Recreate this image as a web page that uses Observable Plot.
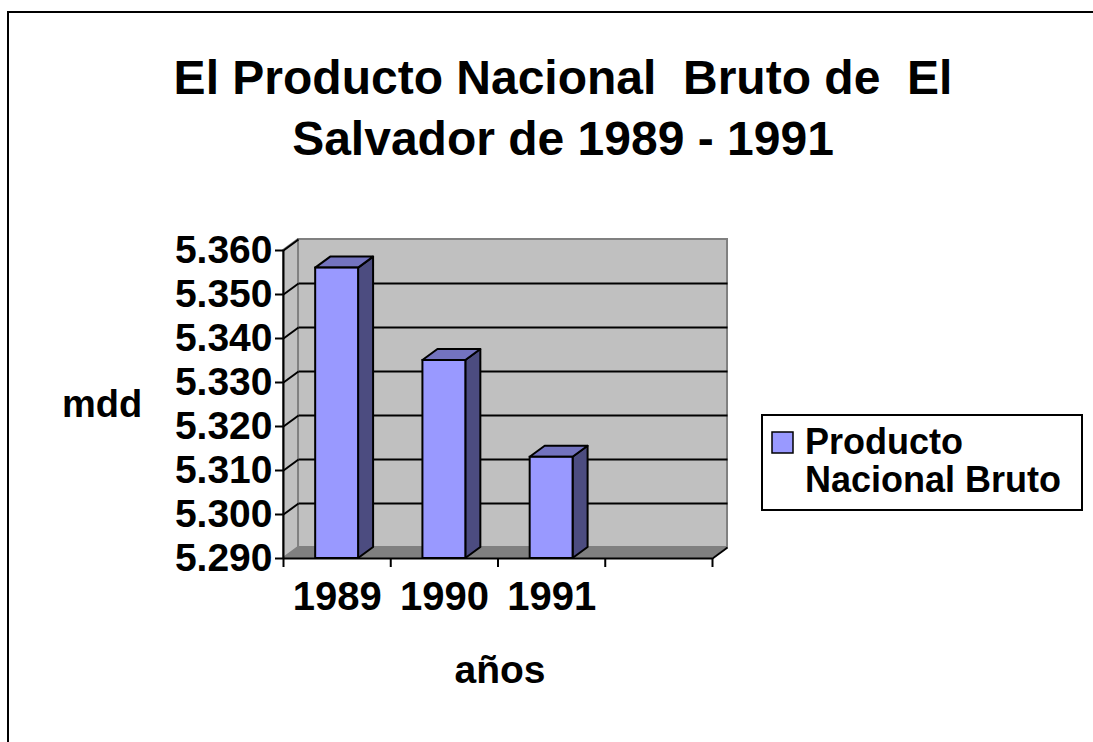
<!DOCTYPE html>
<html>
<head>
<meta charset="utf-8">
<script src="https://cdn.jsdelivr.net/npm/d3@7"></script>
<script src="https://cdn.jsdelivr.net/npm/@observablehq/plot@0.6"></script>
<style>
  html, body { margin: 0; padding: 0; background: #fff; }
  #chart { width: 1093px; height: 742px; overflow: hidden; }
  svg { font-family: "Liberation Sans", Arial, sans-serif; }
</style>
</head>
<body>
<div id="chart"></div>
<script>
// ---- data ----
const categories = ["1989", "1990", "1991", ""];
const values = [5.356, 5.335, 5.313, null];
const yTicks = [5.29, 5.30, 5.31, 5.32, 5.33, 5.34, 5.35, 5.36];
const seriesName = ["Producto", "Nacional Bruto"];
const titleLines = ["El Producto Nacional  Bruto de  El", "Salvador de 1989 - 1991"];
const yLabel = "mdd";
const xLabel = "años";

// ---- layout / style ----
const W = 1093, H = 742;
const yMin = 5.29, yMax = 5.36;
const nSlots = categories.length;
const DX = 0.14;      // depth offset in x units
const DY = 0.0025;    // depth offset in y units
const barPad = 0.3;
const FRONT = "#9999ff", TOP = "#7373bf", SIDE = "#4c4c80";
const WALL = "#c0c0c0", EDGE = "#808080", FLOOR = "#808080";

const bars = categories.map((c, i) => ({cat: c, i, v: values[i]})).filter(d => d.v != null);
const sidePts = bars.flatMap(d => [
  {cat: d.cat, x: d.i + 1 - barPad, y1: yMin, y2: d.v},
  {cat: d.cat, x: d.i + 1 - barPad + DX, y1: yMin + DY, y2: d.v + DY}
]);
const topPts = bars.flatMap(d => [
  {cat: d.cat, y: d.v, x1: d.i + barPad, x2: d.i + 1 - barPad},
  {cat: d.cat, y: d.v + DY, x1: d.i + barPad + DX, x2: d.i + 1 - barPad + DX}
]);
const grid = yTicks.filter(t => t > yMin && t < yMax);
const slotEdges = d3.range(nSlots + 1);

const plot = Plot.plot({
  width: W, height: H,
  marginLeft: 283, marginRight: 381, marginTop: 250, marginBottom: 184,
  style: {background: "transparent", fontFamily: "Liberation Sans, Arial, sans-serif"},
  x: {domain: [0, nSlots]},
  y: {domain: [yMin, yMax]},
  marks: [
    // back wall
    Plot.rect([0], {x1: () => DX, x2: () => nSlots + DX, y1: () => yMin + DY, y2: () => yMax + DY,
      fill: WALL, stroke: EDGE, strokeWidth: 2}),
    // left wall
    Plot.areaY([{x: 0, y1: yMin, y2: yMax}, {x: DX, y1: yMin + DY, y2: yMax + DY}],
      {x: "x", y1: "y1", y2: "y2", fill: WALL, stroke: EDGE, strokeWidth: 2}),
    // floor
    Plot.areaX([{y: yMin, x1: 0, x2: nSlots}, {y: yMin + DY, x1: DX, x2: nSlots + DX}],
      {y: "y", x1: "x1", x2: "x2", fill: FLOOR}),
    Plot.link([0], {x1: () => nSlots, y1: () => yMin, x2: () => nSlots + DX, y2: () => yMin + DY,
      stroke: "black", strokeWidth: 2}),
    // gridlines back wall
    Plot.link(grid, {x1: () => DX, x2: () => nSlots + DX, y1: d => d + DY, y2: d => d + DY,
      stroke: "black", strokeWidth: 2.2}),
    // gridlines left wall
    Plot.link(yTicks.filter(t => t > yMin), {x1: () => 0, x2: () => DX, y1: d => d, y2: d => d + DY,
      stroke: "black", strokeWidth: 2}),
    // bars: side, top, front
    Plot.areaY(sidePts, {x: "x", y1: "y1", y2: "y2", z: "cat", fill: SIDE, stroke: "black", strokeWidth: 2}),
    Plot.areaX(topPts, {y: "y", x1: "x1", x2: "x2", z: "cat", fill: TOP, stroke: "black", strokeWidth: 2}),
    Plot.rect(bars, {x1: d => d.i + barPad, x2: d => d.i + 1 - barPad, y1: () => yMin, y2: "v",
      fill: FRONT, stroke: "black", strokeWidth: 2}),
    // axes lines
    Plot.ruleX([0], {y1: () => yMin, y2: () => yMax, stroke: "black", strokeWidth: 2}),
    Plot.ruleY([yMin], {x1: () => 0, x2: () => nSlots, stroke: "black", strokeWidth: 2}),
    Plot.axisY({ticks: yTicks, tickFormat: d3.format(".3f"), tickSize: 8, tickPadding: 3,
      fontSize: 39, fontWeight: "bold", strokeWidth: 2, label: null, fill: "black", stroke: "black"}),
    Plot.axisX({ticks: slotEdges, tickFormat: () => "", tickSize: 9, strokeWidth: 2, label: null, stroke: "black"}),
    Plot.text(categories, {x: (d, i) => i + 0.5, y: () => yMin, text: d => d, dy: 39,
      lineAnchor: "middle", fontSize: 40, fontWeight: "bold", fill: "black"})
  ]
});

document.getElementById("chart").appendChild(plot);

// ---- title, axis titles, legend, frame ----
const svg = d3.select(plot);
const font = "Liberation Sans, Arial, sans-serif";
svg.append("path").attr("d", `M8,${H} V12 H${W}`).attr("fill", "none").attr("stroke", "black").attr("stroke-width", 2);
titleLines.forEach((t, k) => {
  svg.append("text").attr("x", 563).attr("y", 94 + k * 61).attr("text-anchor", "middle")
    .attr("font-family", font).attr("font-size", 48).attr("font-weight", "bold").attr("fill", "black").text(t);
});
svg.append("text").attr("x", 62).attr("y", 417).attr("text-anchor", "start").attr("font-family", font)
  .attr("font-size", 38).attr("font-weight", "bold").attr("fill", "black").text(yLabel);
svg.append("text").attr("x", 500).attr("y", 683).attr("text-anchor", "middle").attr("font-family", font)
  .attr("font-size", 39).attr("font-weight", "bold").attr("fill", "black").text(xLabel);
const lg = svg.append("g");
lg.append("rect").attr("x", 762).attr("y", 415).attr("width", 320).attr("height", 95)
  .attr("fill", "white").attr("stroke", "black").attr("stroke-width", 2);
lg.append("rect").attr("x", 772).attr("y", 432).attr("width", 21).attr("height", 21)
  .attr("fill", FRONT).attr("stroke", "black").attr("stroke-width", 1.5);
seriesName.forEach((t, k) => {
  lg.append("text").attr("x", 805).attr("y", 454 + k * 38).attr("text-anchor", "start").attr("font-family", font)
    .attr("font-size", 36).attr("font-weight", "bold").attr("fill", "black").text(t);
});
</script>
</body>
</html>
